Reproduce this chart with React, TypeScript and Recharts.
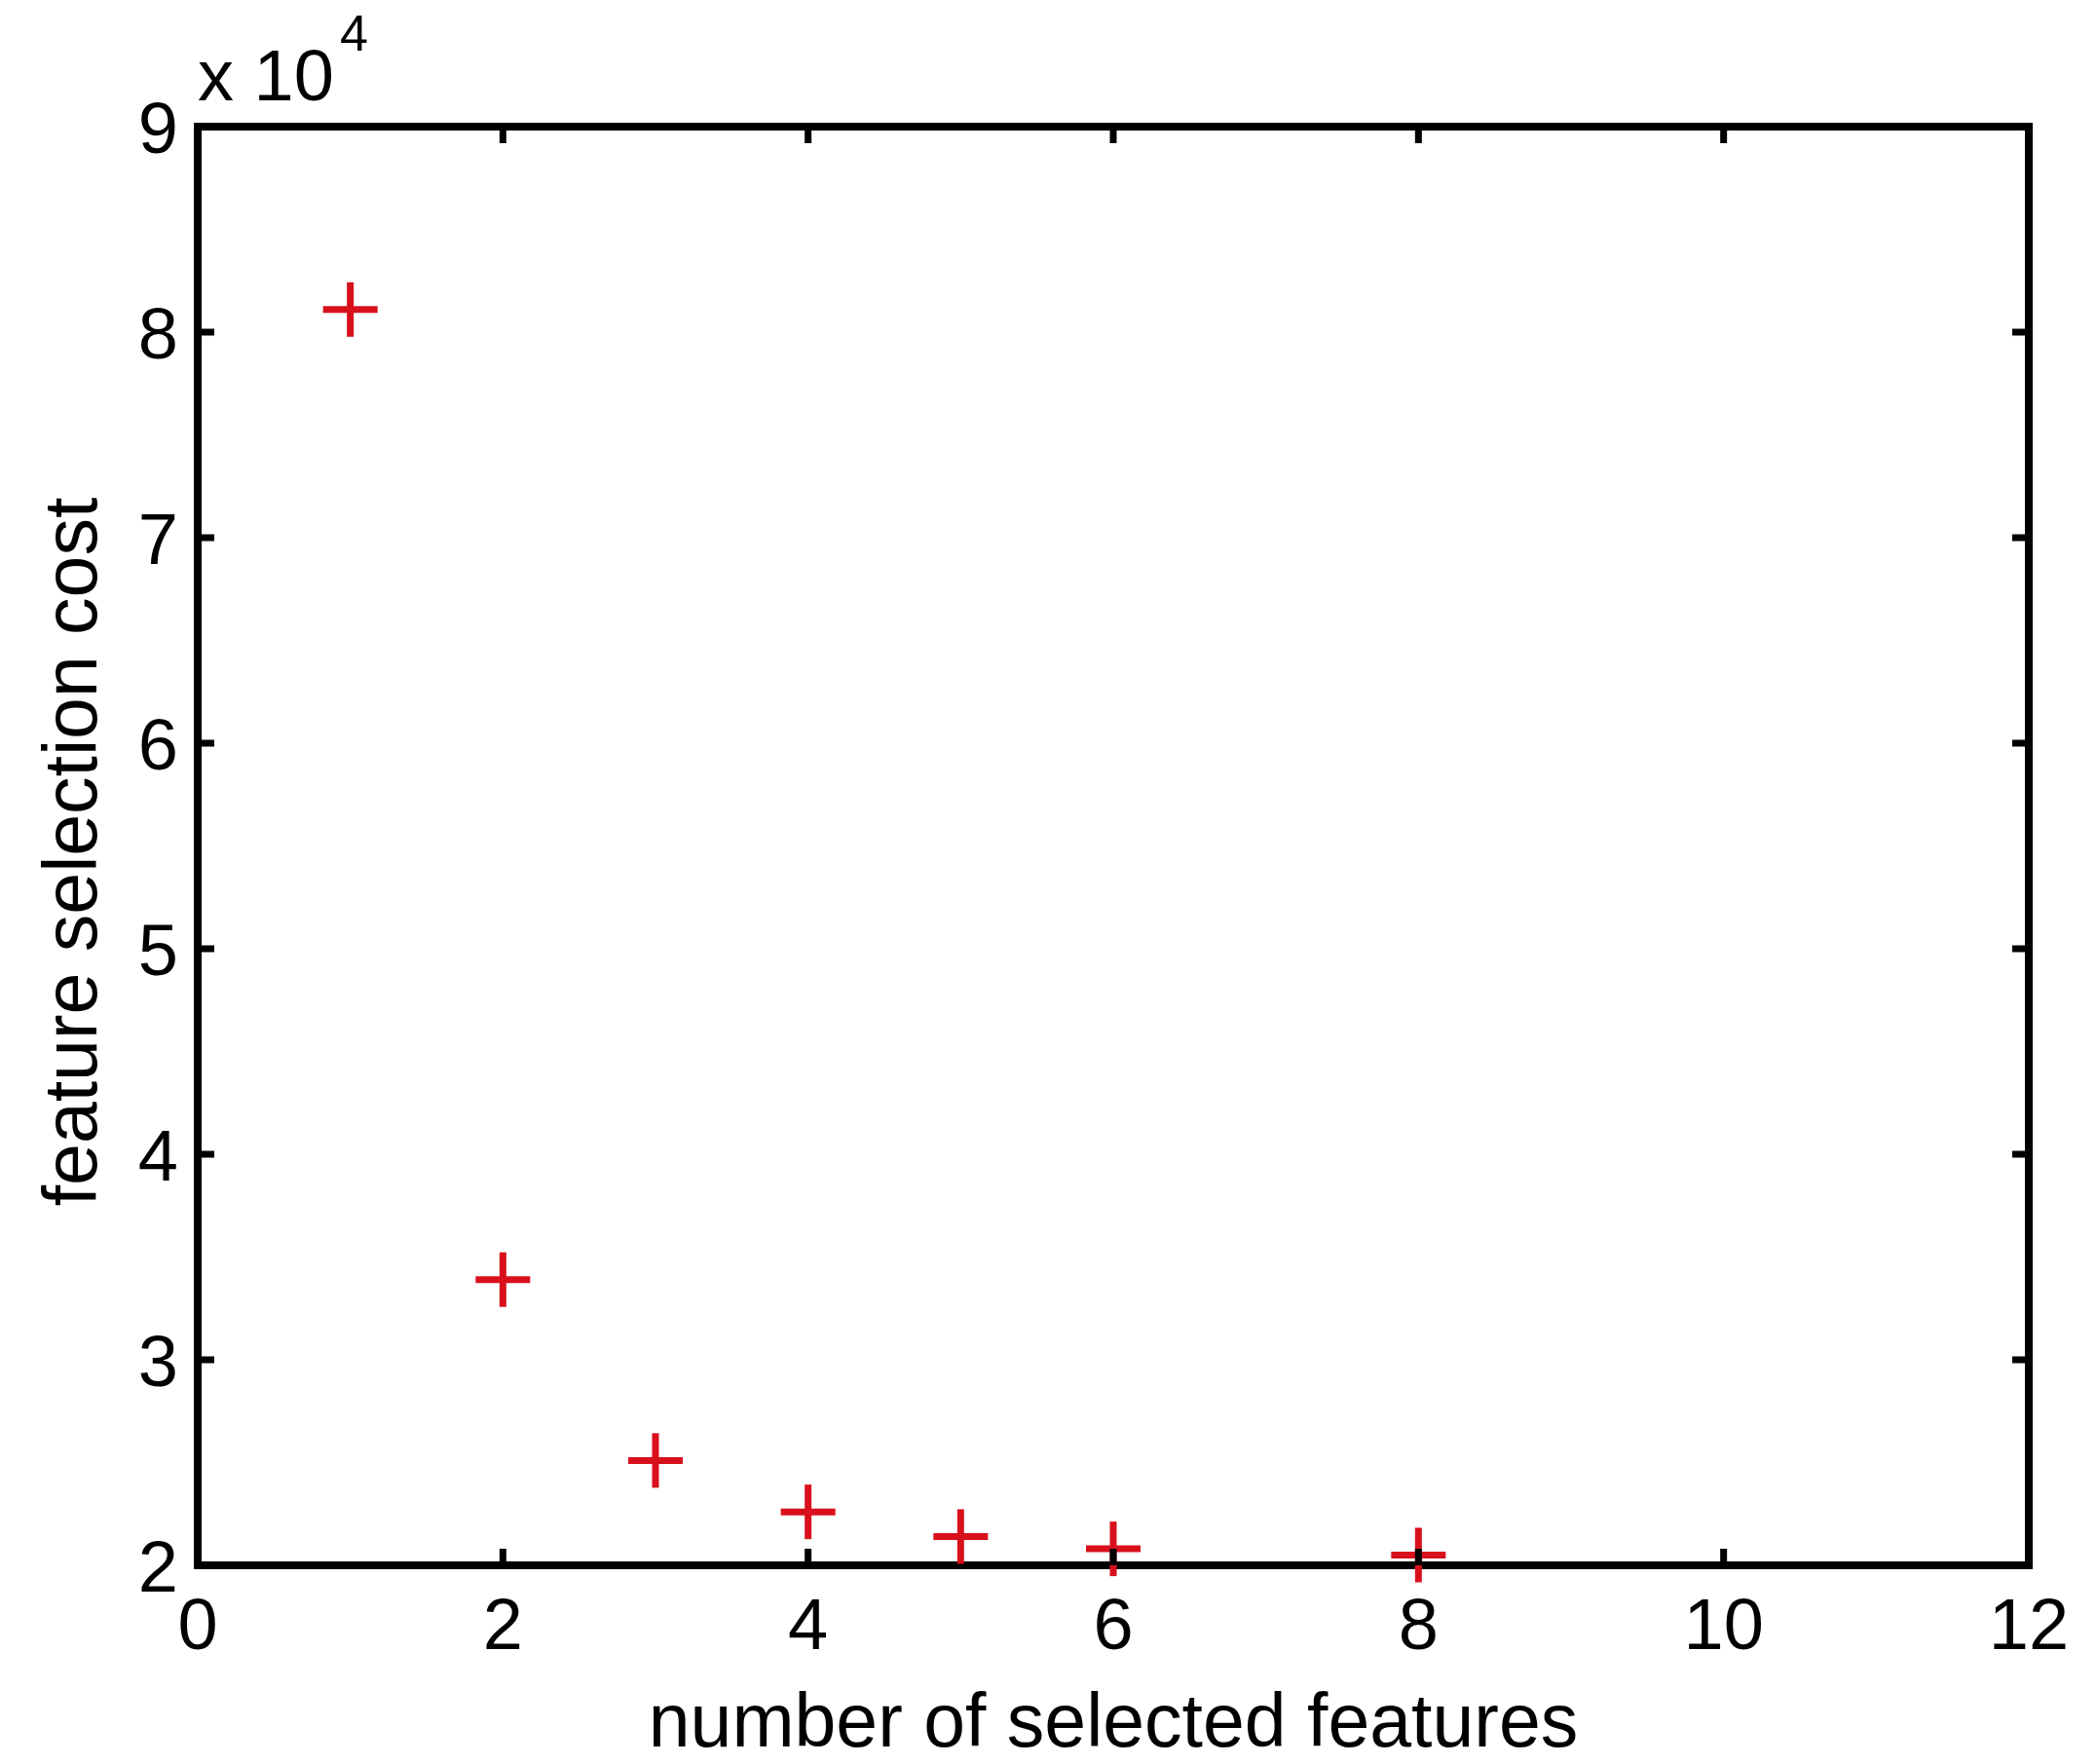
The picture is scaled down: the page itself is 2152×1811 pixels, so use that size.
import React from "react";
import { ScatterChart, Scatter, XAxis, YAxis, Label } from "recharts";

// number of selected features vs. cost
const featureCounts = [1, 2, 3, 4, 5, 6, 8];
const selectionCosts = [81100, 33900, 25100, 22600, 21400, 20800, 20500];

const xTicks = [0, 2, 4, 6, 8, 10, 12];
const yTicks = [20000, 30000, 40000, 50000, 60000, 70000, 80000, 90000];
const yScaleBase = "x 10";
const yScaleExp = "4";

const xTitle = "number of selected features";
const yTitle = "feature selection cost";

const data = featureCounts.map((n, i) => ({ n, cost: selectionCosts[i] }));

const FONT = "'Liberation Sans', Arial, sans-serif";
const TICK_LEN = 17;
const LINE_W = 8;

const axisLine = { stroke: "#000", strokeWidth: LINE_W, strokeLinecap: "square" as const };

const bottomTick = (props: any) => {
  const { x, y, payload } = props;
  return (
    <g>
      <line x1={x} y1={y} x2={x} y2={y - TICK_LEN} stroke="#000" strokeWidth={7} />
      <text x={x} y={y + 86} textAnchor="middle" fontFamily={FONT} fontSize={74} fill="#000">
        {payload.value}
      </text>
    </g>
  );
};

const topTick = (props: any) => {
  const { x, y } = props;
  return <line x1={x} y1={y} x2={x} y2={y + TICK_LEN} stroke="#000" strokeWidth={7} />;
};

const leftTick = (props: any) => {
  const { x, y, payload } = props;
  return (
    <g>
      <line x1={x} y1={y} x2={x + TICK_LEN} y2={y} stroke="#000" strokeWidth={7} />
      <text x={x - 20} y={y} dy="0.36em" textAnchor="end" fontFamily={FONT} fontSize={74} fill="#000">
        {payload.value / 10000}
      </text>
    </g>
  );
};

const rightTick = (props: any) => {
  const { x, y } = props;
  return <line x1={x} y1={y} x2={x - TICK_LEN} y2={y} stroke="#000" strokeWidth={7} />;
};

const PlusMark = (props: any) => {
  const { cx, cy } = props;
  const r = 28;
  return (
    <g stroke="#d8101c" strokeWidth={7}>
      <line x1={cx - r} y1={cy} x2={cx + r} y2={cy} />
      <line x1={cx} y1={cy - r} x2={cx} y2={cy + r} />
    </g>
  );
};

const NoMark = () => <g />;

export default function App() {
  return (
    <div style={{ position: "absolute", left: 0, top: 0, background: "#fff" }}>
      <ScatterChart width={2152} height={1811} margin={{ top: 129, right: 68, bottom: 0, left: 0 }}>
        <XAxis
          xAxisId="bottom"
          dataKey="n"
          type="number"
          domain={[0, 12]}
          ticks={xTicks}
          interval={0}
          height={204}
          axisLine={axisLine}
          tickLine={false}
          tickSize={0}
          tickMargin={0}
          tick={bottomTick}
        >
          <Label
            content={(p: any) => {
              const vb = p.viewBox;
              return (
                <text
                  x={vb.x + vb.width / 2}
                  y={vb.y + 186}
                  textAnchor="middle"
                  fontFamily={FONT}
                  fontSize={77}
                  fill="#000"
                >
                  {xTitle}
                </text>
              );
            }}
          />
        </XAxis>
        <XAxis
          xAxisId="top"
          orientation="top"
          dataKey="n"
          type="number"
          domain={[0, 12]}
          ticks={xTicks}
          interval={0}
          height={1}
          axisLine={axisLine}
          tickLine={false}
          tickSize={0}
          tickMargin={0}
          tick={topTick}
        />
        <YAxis
          yAxisId="left"
          dataKey="cost"
          type="number"
          domain={[20000, 90000]}
          ticks={yTicks}
          interval={0}
          width={203}
          axisLine={axisLine}
          tickLine={false}
          tickSize={0}
          tickMargin={0}
          tick={leftTick}
        >
          <Label
            content={(p: any) => {
              const vb = p.viewBox;
              const cx = vb.x + 99;
              const cy = vb.y + vb.height / 2 + 6;
              return (
                <g>
                  <text
                    x={cx}
                    y={cy}
                    transform={`rotate(-90, ${cx}, ${cy})`}
                    textAnchor="middle"
                    fontFamily={FONT}
                    fontSize={77}
                    fill="#000"
                  >
                    {yTitle}
                  </text>
                  <text x={vb.x + vb.width} y={vb.y - 27} fontFamily={FONT} fontSize={74} fill="#000">
                    {yScaleBase}
                    <tspan dx={6} dy={-51} fontSize={52}>
                      {yScaleExp}
                    </tspan>
                  </text>
                </g>
              );
            }}
          />
        </YAxis>
        <YAxis
          yAxisId="right"
          orientation="right"
          dataKey="cost"
          type="number"
          domain={[20000, 90000]}
          ticks={yTicks}
          interval={0}
          width={1}
          axisLine={axisLine}
          tickLine={false}
          tickSize={0}
          tickMargin={0}
          tick={rightTick}
        />
        <Scatter
          data={data}
          xAxisId="top"
          yAxisId="right"
          shape={<NoMark />}
          isAnimationActive={false}
        />
        <Scatter
          data={data}
          xAxisId="bottom"
          yAxisId="left"
          shape={<PlusMark />}
          isAnimationActive={false}
        />
      </ScatterChart>
    </div>
  );
}
